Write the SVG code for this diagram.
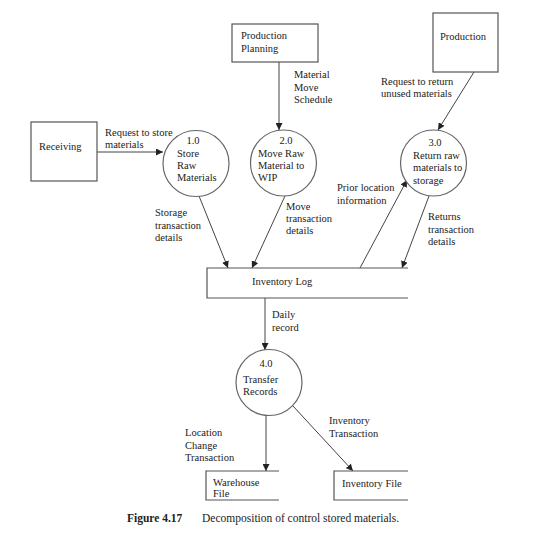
<svg xmlns="http://www.w3.org/2000/svg" width="537" height="541" viewBox="0 0 537 541">
<defs>
<marker id="ah" viewBox="0 0 10 10" refX="10" refY="5" markerWidth="7" markerHeight="7" orient="auto" markerUnits="userSpaceOnUse">
<path d="M0,0 L10,5 L0,10 z" fill="#222"/>
</marker>
</defs>
<style>
text{font-family:"Liberation Serif","Times New Roman",serif;font-size:10.5px;fill:#222}
.box{fill:#fff;stroke:#555;stroke-width:1.2}
.proc{fill:#fff;stroke:#666;stroke-width:1.2}
.store{fill:none;stroke:#555;stroke-width:1.2}
.flow{stroke:#444;stroke-width:1;fill:none;marker-end:url(#ah)}
.cap{font-size:11.5px}
.b{font-weight:bold}
</style>
<rect width="537" height="541" fill="#fff"/>
<g id="connectors">
<line class="flow" x1="97" y1="152" x2="163" y2="152"/>
<line class="flow" x1="279" y1="62" x2="279" y2="130"/>
<line class="flow" x1="474" y1="72" x2="438" y2="130"/>
<line class="flow" x1="199" y1="196" x2="228" y2="268"/>
<line class="flow" x1="285" y1="196" x2="252" y2="268"/>
<line class="flow" x1="360" y1="268" x2="407" y2="180"/>
<line class="flow" x1="429" y1="196" x2="402" y2="268"/>
<line class="flow" x1="265" y1="298" x2="265" y2="350"/>
<line class="flow" x1="266" y1="415" x2="266" y2="471"/>
<line class="flow" x1="293" y1="406" x2="353" y2="471"/>
<text x="105" y="136">Request to store</text>
<text x="105" y="148">materials</text>
<text x="294" y="78">Material</text>
<text x="294" y="91">Move</text>
<text x="294" y="103">Schedule</text>
<text x="381" y="85">Request to return</text>
<text x="381" y="97">unused materials</text>
<text x="155" y="216">Storage</text>
<text x="155" y="229">transaction</text>
<text x="155" y="241">details</text>
<text x="286" y="210">Move</text>
<text x="286" y="222">transaction</text>
<text x="286" y="234">details</text>
<text x="337" y="191">Prior location</text>
<text x="337" y="204">information</text>
<text x="428" y="220">Returns</text>
<text x="428" y="233">transaction</text>
<text x="428" y="245">details</text>
<text x="272" y="318">Daily</text>
<text x="272" y="331">record</text>
<text x="185" y="436">Location</text>
<text x="185" y="449">Change</text>
<text x="185" y="461">Transaction</text>
<text x="329" y="424">Inventory</text>
<text x="329" y="437">Transaction</text>
</g>
<g id="production-planning">
<rect class="box" x="232" y="24" width="86" height="38"/>
<text x="241" y="39">Production</text>
<text x="241" y="52">Planning</text>
</g>
<g id="production">
<rect class="box" x="433" y="13" width="65" height="59"/>
<text x="440" y="40">Production</text>
</g>
<g id="receiving">
<rect class="box" x="31" y="122" width="66" height="59"/>
<text x="39" y="150">Receiving</text>
</g>
<g id="p1">
<circle class="proc" cx="196" cy="163.5" r="33"/>
<text x="193" y="144" text-anchor="middle">1.0</text>
<text x="177" y="157">Store</text>
<text x="177" y="169">Raw</text>
<text x="177" y="181">Materials</text>
</g>
<g id="p2">
<circle class="proc" cx="283.5" cy="163" r="33"/>
<text x="286" y="144" text-anchor="middle">2.0</text>
<text x="258" y="157">Move Raw</text>
<text x="258" y="169">Material to</text>
<text x="258" y="181">WIP</text>
</g>
<g id="p3">
<circle class="proc" cx="433.5" cy="163" r="33"/>
<text x="435" y="146" text-anchor="middle">3.0</text>
<text x="413" y="159">Return raw</text>
<text x="413" y="171">materials to</text>
<text x="413" y="184">storage</text>
</g>
<g id="inventory-log">
<path class="store" d="M408,268 H207 V298 H408"/>
<text x="252" y="285">Inventory Log</text>
</g>
<g id="p4">
<circle class="proc" cx="269" cy="382.5" r="33"/>
<text x="266" y="367" text-anchor="middle">4.0</text>
<text x="243" y="383">Transfer</text>
<text x="243" y="395">Records</text>
</g>
<g id="warehouse-file">
<path class="store" d="M279,471 H206 V500 H279"/>
<text x="213" y="486">Warehouse</text>
<text x="213" y="497">File</text>
</g>
<g id="inventory-file">
<path class="store" d="M408,471 H334 V500 H408"/>
<text x="342" y="487">Inventory File</text>
</g>
<g id="caption">
<text class="cap b" x="127" y="522">Figure 4.17</text>
<text class="cap" x="202" y="522">Decomposition of control stored materials.</text>
</g>
</svg>
